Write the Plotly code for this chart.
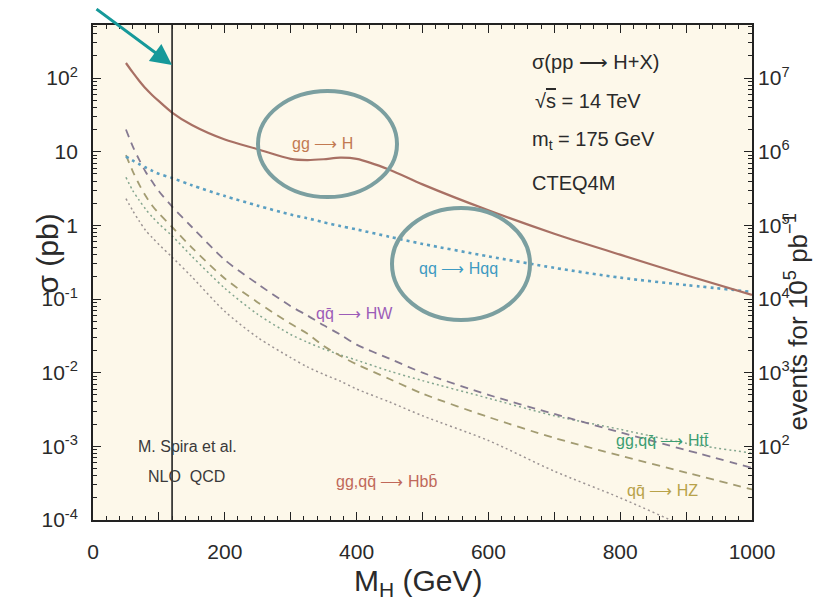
import plotly.graph_objects as go

# ---------------- data ----------------
mass = [50, 60, 70, 80, 90, 100, 120, 150, 200, 250, 300, 325, 350, 375, 400, 450, 500, 600, 700, 800, 900, 1000]
sigma_gg_H = [160, 120, 92, 72, 58.5, 48.5, 34, 23, 14.6, 10.8, 8.0, 7.7, 7.9, 8.3, 8.0, 5.7, 3.6, 1.6, 0.77, 0.40, 0.21, 0.114]
sigma_qq_Hqq = [8.6, 7.6, 6.8, 6.1, 5.5, 5.0, 4.4, 3.5, 2.5, 1.85, 1.4, 1.25, 1.1, 0.98, 0.88, 0.70, 0.56, 0.38, 0.265, 0.195, 0.155, 0.125]
sigma_HW = [20, 12, 7.8, 5.3, 3.9, 2.9, 1.8, 0.95, 0.34, 0.16, 0.08, 0.06, 0.044, 0.033, 0.024, 0.0155, 0.010, 0.005, 0.00275, 0.00155, 0.00089, 0.00051]
sigma_HZ = [9, 5.5, 3.6, 2.5, 1.85, 1.45, 0.95, 0.5, 0.19, 0.09, 0.046, 0.034, 0.023, 0.017, 0.013, 0.0082, 0.0052, 0.0025, 0.0013, 0.00075, 0.00044, 0.00026]
sigma_Htt = [4.5, 3.0, 2.2, 1.65, 1.3, 1.05, 0.72, 0.38, 0.14, 0.062, 0.033, 0.026, 0.021, 0.0175, 0.0148, 0.0105, 0.0078, 0.0045, 0.0026, 0.0017, 0.0011, 0.00081]
sigma_Hbb = [2.3, 1.6, 1.15, 0.85, 0.68, 0.55, 0.37, 0.2, 0.068, 0.03, 0.016, 0.012, 0.0095, 0.0077, 0.006, 0.004, 0.0026, 0.0012, 0.00046, 0.0002, 0.00008, 0.00003]

marker_mass = 120  # vertical reference line (GeV)
luminosity = 1e5   # pb^-1, right axis = sigma * luminosity

x_tick_vals = [0, 100, 200, 300, 400, 500, 600, 700, 800, 900, 1000]
x_tick_text = ["0", "", "200", "", "400", "", "600", "", "800", "", "1000"]
y_tick_vals = [1e-4, 1e-3, 1e-2, 1e-1, 1, 10, 100]
y_tick_text = ["10<sup>-4</sup>", "10<sup>-3</sup>", "10<sup>-2</sup>", "10<sup>-1</sup>", "1", "10", "10<sup>2</sup>"]
y2_tick_vals = [1e2, 1e3, 1e4, 1e5, 1e6, 1e7]
y2_tick_text = ["10<sup>2</sup>", "10<sup>3</sup>", "10<sup>4</sup>", "10<sup>5</sup>", "10<sup>6</sup>", "10<sup>7</sup>"]

# ---------------- figure ----------------
FONT = "Liberation Sans, Arial, sans-serif"
W, H = 832, 615
OFF = 8  # page body margin
L, R, T, B = 93, 752, 25, 520  # plot frame in page pixels


def px(xp):
    return (xp - L) / (R - L)


def py(yp):
    return (B - yp) / (B - T)


fig = go.Figure()

series = [
    (sigma_Hbb, "#9c9494", 1.5, "2px,3px"),
    (sigma_Htt, "#84a68f", 1.5, "2px,3px"),
    (sigma_HZ, "#a39c72", 1.8, "8px,6px"),
    (sigma_HW, "#857a92", 1.8, "8px,6px"),
    (sigma_qq_Hqq, "#5a9fc2", 2.6, "3px,4px"),
    (sigma_gg_H, "#a87064", 2.2, "solid"),
]
for vals, col, wdt, dash in series:
    fig.add_trace(go.Scatter(x=mass, y=vals, mode="lines",
                             line=dict(color=col, width=wdt, dash=dash, shape="spline", smoothing=0.8),
                             showlegend=False, hoverinfo="skip"))

# invisible trace to activate right axis
fig.add_trace(go.Scatter(x=[mass[0]], y=[sigma_gg_H[0] * luminosity], yaxis="y2", mode="markers",
                         marker=dict(opacity=0), showlegend=False, hoverinfo="skip"))

top_log = 2.72
minor_y = [k * 10 ** e for e in range(-4, 3) for k in range(2, 10) if k * 10 ** e < 10 ** top_log]
minor_y2 = [k * 10 ** e for e in range(1, 8) for k in range(2, 10) if k * 10 ** e < 10 ** (top_log + 5)]

fig.update_layout(
    width=W, height=H,
    margin=dict(l=L - OFF, r=W - (R - OFF), t=T - OFF, b=H - (B - OFF), autoexpand=False),
    paper_bgcolor="white",
    plot_bgcolor="#FDF8EA",
    font=dict(family=FONT, color="#2a2a2a"),
    xaxis=dict(range=[0, 1000], showline=True, linecolor="#222", linewidth=1.8, mirror="ticks",
               ticks="inside", ticklen=8, tickwidth=1.3, tickcolor="#222",
               tickmode="array", tickvals=x_tick_vals, ticktext=x_tick_text,
               tickfont=dict(size=21, color="#2a2a2a"), ticklabelstandoff=12,
               minor=dict(dtick=20, ticks="inside", ticklen=4, tickwidth=1.1, tickcolor="#222"),
               showgrid=False, zeroline=False),
    yaxis=dict(type="log", range=[-4, top_log], showline=True, linecolor="#222", linewidth=1.8, mirror=False,
               ticks="inside", ticklen=8, tickwidth=1.3, tickcolor="#222",
               tickmode="array", tickvals=y_tick_vals, ticktext=y_tick_text,
               tickfont=dict(size=21, color="#2a2a2a"), ticklabelstandoff=9,
               minor=dict(tickmode="array", tickvals=minor_y, ticks="inside", ticklen=4, tickwidth=1.1, tickcolor="#222"),
               showgrid=False, zeroline=False),
    yaxis2=dict(type="log", range=[-4 + 5, top_log + 5], overlaying="y", side="right",
                showline=True, linecolor="#222", linewidth=1.8,
                ticks="inside", ticklen=8, tickwidth=1.3, tickcolor="#222",
                tickmode="array", tickvals=y2_tick_vals, ticktext=y2_tick_text,
                tickfont=dict(size=21, color="#2a2a2a"), ticklabelstandoff=0,
                minor=dict(tickmode="array", tickvals=minor_y2, ticks="inside", ticklen=4, tickwidth=1.1, tickcolor="#222"),
                showgrid=False, zeroline=False),
)

# vertical line
fig.add_shape(type="line", xref="x", yref="paper", x0=marker_mass, x1=marker_mass, y0=0, y1=1,
              line=dict(color="#222", width=1.6))

# ellipses
fig.add_shape(type="circle", xref="paper", yref="paper", x0=px(258), x1=px(397), y0=py(197), y1=py(91),
              line=dict(color="#7b9fa0", width=4))
fig.add_shape(type="circle", xref="paper", yref="paper", x0=px(392), x1=px(530), y0=py(320), y1=py(208),
              line=dict(color="#7b9fa0", width=4))

ann = []


def txt(x, y, s, size, color, xanchor="center", yanchor="middle"):
    ann.append(dict(x=px(x), y=py(y), xref="paper", yref="paper", text=s, showarrow=False,
                    font=dict(size=size, color=color, family=FONT), xanchor=xanchor, yanchor=yanchor))


# info block
txt(530, 62, "σ(pp ⟶ H+X)", 20, "#2a2a2a", xanchor="left")
txt(533, 101, "√<span style='text-decoration:overline'>s</span> = 14 TeV", 20, "#2a2a2a", xanchor="left")
txt(530, 141, "m<sub>t</sub> = 175 GeV", 20, "#2a2a2a", xanchor="left")
txt(530, 183, "CTEQ4M", 20, "#2a2a2a", xanchor="left")

# process labels
txt(322, 143, "gg ⟶ H", 16, "#c27a52")
txt(458, 268, "qq ⟶ Hqq", 16, "#3f9bc2")
txt(354, 313, "qq\u0304 ⟶ HW", 16, "#9c5cb8")
txt(662, 440, "gg,qq\u0304 ⟶ Htt\u0304", 16, "#3c9e72")
txt(386, 481, "gg,qq\u0304 ⟶ Hbb\u0304", 16, "#c0685a")
txt(662, 490, "qq\u0304 ⟶ HZ", 16, "#b8a24a")
txt(187, 447, "M. Spira et al.", 16, "#3a3a3a")
txt(186, 476, "NLO  QCD", 16, "#3a3a3a")

# axis titles
txt(418, 582, "M<sub>H</sub> (GeV)", 30, "#2a2a2a")
ann.append(dict(x=px(28), y=py(254), xref="paper", yref="paper", text="σ (pb)", textangle=-90, showarrow=False,
                font=dict(size=30, color="#2a2a2a", family=FONT)))
ann.append(dict(x=px(815), y=py(322), xref="paper", yref="paper", text="events for 10<sup>5</sup> pb<sup>−1</sup>",
                textangle=-90, showarrow=False, font=dict(size=26, color="#2a2a2a", family=FONT)))

# teal arrow
ann.append(dict(x=px(172), y=py(65), xref="paper", yref="paper", ax=-77, ay=-63, axref="pixel", ayref="pixel",
                text="", showarrow=True, arrowhead=2, arrowsize=1.4, arrowwidth=3, arrowcolor="#16999a"))

fig.update_layout(annotations=ann)
fig.write_html("out.html")
